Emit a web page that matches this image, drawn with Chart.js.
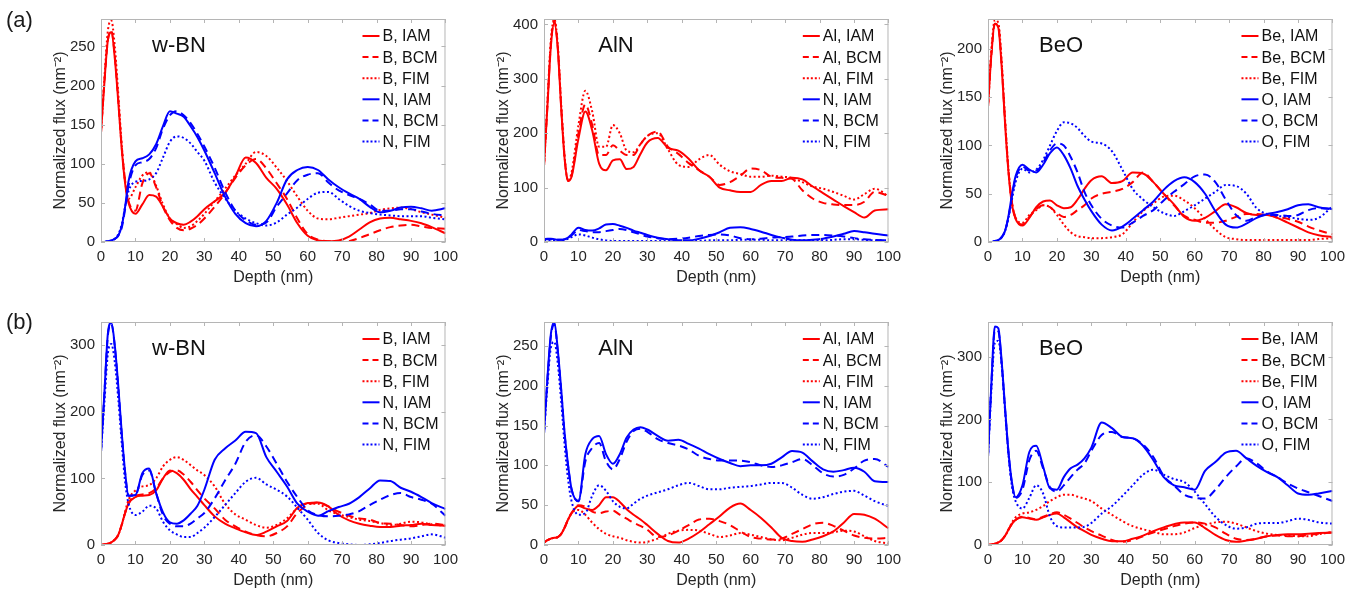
<!DOCTYPE html>
<html>
<head>
<meta charset="utf-8">
<script src="https://cdn.jsdelivr.net/npm/chart.js@4.4.1/dist/chart.umd.min.js"></script>
<style>
  body { margin: 0; background: #fff; width: 1369px; height: 599px; overflow: hidden; position: relative;
         font-family: 'Liberation Sans', Arial, sans-serif; }
  canvas { position: absolute; }
  .tag { position: absolute; font-size: 22px; color: #1a1a1a; z-index: 2; }
</style>
</head>
<body>
<div class="tag" style="left:6px;top:7px">(a)</div>
<div class="tag" style="left:6px;top:309px">(b)</div>
<script>
// depth grid shared by every curve (nm)
const DEPTH = [0,1,2,3,4,5,6,7,8,10,12,14,16,18,20,22,24,26,28,30,33,36,39,42,45,48,51,54,57,60,63,66,69,72,75,78,81,84,87,90,93,96,100];
const MODELS = ['IAM', 'BCM', 'FIM'];

// ── (a) w-BN ───────────────────────────────────────────────
const aBN_B_IAM = [140,205,258,268,235,180,120,75,50,36,48,60,58,45,30,24,22,26,33,42,52,63,84,108,101,82,68,48,24,8,2,1,2,7,16,25,30,31,29,27,24,19,11];
const aBN_B_BCM = [140,205,258,270,238,182,122,78,52,40,75,88,70,45,28,18,15,17,22,30,45,62,82,98,106,94,75,55,30,10,3,1,0,1,5,10,15,19,21,22,20,18,17];
const aBN_B_FIM = [140,210,270,283,250,190,125,78,55,70,85,89,72,48,30,23,18,20,27,36,52,68,85,100,115,110,95,78,58,40,30,29,31,33,35,37,41,43,44,42,38,35,31];
const aBN_N_IAM = [0,0,1,2,4,8,20,45,78,103,107,112,125,148,167,164,160,148,134,117,88,58,36,24,20,27,50,80,92,96,92,80,70,62,55,45,38,40,44,45,43,40,43];
const aBN_N_BCM = [0,0,1,2,4,8,18,42,72,98,102,106,120,145,162,167,162,152,138,122,95,64,40,28,22,25,45,62,79,86,88,76,66,60,55,48,40,40,42,42,39,36,34];
const aBN_N_FIM = [0,0,1,2,4,10,22,45,65,77,78,80,88,108,128,135,133,126,115,104,76,56,40,30,24,21,25,35,44,55,63,64,55,46,40,37,35,34,33,33,33,31,29];

// ── (a) AlN ────────────────────────────────────────────────
const aAlN_Al_IAM = [140,250,360,403,355,245,152,112,120,190,240,205,144,132,150,152,134,138,162,183,191,173,168,153,132,120,100,95,92,92,105,112,112,118,115,102,90,78,66,55,45,58,60];
const aAlN_Al_BCM = [140,252,365,406,358,248,154,112,122,200,253,215,160,160,178,168,160,160,180,195,203,175,162,145,132,120,105,110,122,135,132,120,118,116,95,80,72,69,68,68,74,92,85];
const aAlN_Al_FIM = [140,258,372,410,362,252,156,113,128,215,278,240,175,175,215,200,168,165,180,195,200,170,142,138,152,160,142,130,125,120,120,122,120,118,110,102,98,92,85,78,88,98,84];
const aAlN_N_IAM = [5,6,6,5,4,4,5,8,14,26,22,21,25,32,33,30,26,21,17,13,8,5,3,3,6,11,18,26,27,24,19,13,8,4,3,4,6,10,15,20,18,15,12];
const aAlN_N_BCM = [5,5,5,5,4,4,5,8,12,22,20,18,18,20,22,24,22,18,14,10,7,5,6,8,11,13,14,12,7,5,6,8,9,10,12,13,13,12,10,7,5,4,3];
const aAlN_N_FIM = [3,3,3,3,3,3,4,6,9,14,12,8,5,3,2,2,2,2,2,2,2,2,2,2,2,3,3,3,4,4,4,3,3,3,3,3,3,4,5,5,4,3,3];

// ── (a) BeO ────────────────────────────────────────────────
const aBeO_Be_IAM = [140,195,226,222,180,120,70,38,24,17,25,36,42,43,38,35,36,44,55,64,68,61,63,72,71,62,50,39,26,22,25,32,39,36,30,28,28,25,20,15,10,7,5];
const aBeO_Be_BCM = [140,195,226,223,182,122,72,40,25,18,26,34,38,36,30,26,28,33,38,45,50,52,55,62,72,62,50,38,27,23,20,20,22,26,29,29,28,26,24,21,16,12,8];
const aBeO_Be_FIM = [140,200,230,227,185,125,72,40,25,20,28,33,38,36,28,18,10,6,5,4,4,5,8,20,32,40,47,48,43,35,24,13,5,3,2,2,2,2,2,2,2,3,4];
const aBeO_O_IAM = [0,0,1,2,5,12,28,50,68,80,75,72,80,92,98,90,76,58,44,32,18,12,16,24,33,42,54,63,67,62,50,32,18,15,19,25,29,31,34,38,39,36,34];
const aBeO_O_BCM = [0,0,1,2,5,12,27,48,66,78,74,74,82,95,102,100,88,72,52,38,24,17,15,20,27,33,43,52,60,68,70,62,44,28,22,26,28,28,27,28,33,35,34];
const aBeO_O_FIM = [0,0,1,2,5,12,26,45,62,76,72,75,85,100,115,124,123,118,110,104,102,94,75,55,44,36,30,27,32,38,45,52,59,58,50,35,29,27,26,24,23,25,37];

// ── (b) w-BN ───────────────────────────────────────────────
const bBN_B_IAM = [0,1,2,4,8,15,30,48,62,72,74,75,82,100,112,108,98,84,72,60,43,32,25,19,15,20,28,36,56,63,64,58,45,37,32,29,27,27,29,30,32,30,29];
const bBN_B_BCM = [0,1,2,4,8,15,30,48,63,74,76,78,85,100,110,112,106,95,82,70,55,38,28,20,15,13,18,28,48,60,64,58,50,44,40,38,33,32,30,28,30,32,30];
const bBN_B_FIM = [0,1,2,4,8,15,30,50,68,82,88,90,100,118,128,132,128,120,112,105,88,62,46,38,30,26,30,40,55,62,62,52,46,42,38,36,33,30,32,35,34,31,29];
const bBN_N_IAM = [140,230,318,334,300,240,170,110,74,75,108,115,78,49,34,32,37,47,59,83,128,145,157,170,168,132,110,88,62,50,44,51,57,62,72,85,97,96,86,80,72,63,54];
const bBN_N_BCM = [140,228,315,332,298,238,168,108,74,75,105,112,78,45,32,28,28,32,40,48,70,97,122,155,165,148,122,95,72,52,45,43,44,46,51,60,68,75,78,72,68,62,44];
const bBN_N_FIM = [140,215,288,302,275,220,155,95,62,45,50,59,55,35,22,16,12,12,18,26,42,60,78,95,101,91,83,73,56,38,18,7,3,1,0,1,3,6,8,10,13,16,11];

// ── (b) AlN ────────────────────────────────────────────────
const bAlN_Al_IAM = [3,6,8,9,10,14,22,32,40,49,46,44,50,60,60,54,45,38,32,25,14,5,3,8,16,26,36,47,52,44,34,22,9,5,4,7,11,17,28,39,38,33,21];
const bAlN_Al_BCM = [3,6,8,9,10,14,22,32,40,50,48,42,40,42,43,38,33,28,24,19,10,12,18,25,32,33,30,25,17,10,8,7,8,14,20,26,28,24,18,12,9,8,9];
const bAlN_Al_FIM = [3,6,8,9,10,14,22,32,40,44,38,28,20,14,11,9,6,4,3,4,8,14,18,19,18,14,10,12,15,13,10,7,6,9,13,15,15,16,18,17,11,5,2];
const bAlN_N_IAM = [140,210,265,280,245,195,140,100,70,55,114,133,137,114,102,114,135,145,148,145,137,131,132,127,121,114,108,103,99,100,100,102,110,118,116,105,95,92,94,97,92,80,79];
const bAlN_N_BCM = [140,208,262,277,243,193,138,99,70,55,105,122,128,105,95,108,130,143,146,142,133,128,125,120,112,108,106,106,106,104,100,98,100,104,108,100,90,86,88,96,106,108,98];
const bAlN_N_FIM = [140,200,248,255,228,180,125,82,55,38,40,62,75,68,55,48,46,52,58,62,66,70,75,78,74,70,70,72,73,74,76,78,78,72,63,58,60,64,67,68,62,55,49];

// ── (b) BeO ────────────────────────────────────────────────
const bBeO_Be_IAM = [0,1,2,4,8,15,25,34,40,44,42,40,44,48,50,44,36,28,22,16,10,6,6,10,15,22,28,33,36,36,27,16,8,5,7,10,14,16,17,17,18,19,20];
const bBeO_Be_BCM = [0,1,2,4,8,15,25,34,40,45,43,41,45,49,52,48,42,35,28,22,15,8,5,8,14,20,25,30,34,36,34,28,18,10,8,10,14,15,14,14,16,18,20];
const bBeO_Be_FIM = [0,1,2,4,8,15,25,36,44,50,52,56,62,70,76,80,80,77,74,70,58,48,38,30,25,21,17,17,20,27,32,36,37,34,28,22,18,16,15,14,14,17,21];
const bBeO_O_IAM = [140,260,348,345,290,215,145,98,76,95,148,158,125,90,88,108,122,128,138,155,195,186,172,170,158,135,108,95,92,88,118,132,147,150,138,126,116,108,95,82,80,82,86];
const bBeO_O_BCM = [140,258,342,340,286,212,143,96,75,88,135,150,122,92,85,95,108,120,130,150,175,180,172,170,160,140,110,95,80,75,74,88,108,125,138,130,117,108,98,90,84,78,70];
const bBeO_O_FIM = [140,250,322,325,285,210,140,92,70,58,75,95,82,45,30,28,28,28,29,35,50,62,78,95,112,120,112,105,100,85,65,45,32,26,28,34,35,35,38,42,40,36,34];

const PANELS = [
  { title: 'w-BN', els: ['B', 'N'],   yMax: 285, yStep: 50,  series: [aBN_B_IAM, aBN_B_BCM, aBN_B_FIM, aBN_N_IAM, aBN_N_BCM, aBN_N_FIM] },
  { title: 'AlN',  els: ['Al', 'N'],  yMax: 410, yStep: 100, series: [aAlN_Al_IAM, aAlN_Al_BCM, aAlN_Al_FIM, aAlN_N_IAM, aAlN_N_BCM, aAlN_N_FIM] },
  { title: 'BeO',  els: ['Be', 'O'],  yMax: 231, yStep: 50,  series: [aBeO_Be_IAM, aBeO_Be_BCM, aBeO_Be_FIM, aBeO_O_IAM, aBeO_O_BCM, aBeO_O_FIM] },
  { title: 'w-BN', els: ['B', 'N'],   yMax: 335, yStep: 100, series: [bBN_B_IAM, bBN_B_BCM, bBN_B_FIM, bBN_N_IAM, bBN_N_BCM, bBN_N_FIM] },
  { title: 'AlN',  els: ['Al', 'N'],  yMax: 280, yStep: 50,  series: [bAlN_Al_IAM, bAlN_Al_BCM, bAlN_Al_FIM, bAlN_N_IAM, bAlN_N_BCM, bAlN_N_FIM] },
  { title: 'BeO',  els: ['Be', 'O'],  yMax: 355, yStep: 100, series: [bBeO_Be_IAM, bBeO_Be_BCM, bBeO_Be_FIM, bBeO_O_IAM, bBeO_O_BCM, bBeO_O_FIM] },
];

// layout (pixels)
const PLOT_LEFT = [101, 544, 988];
const PLOT_TOP  = [14, 317];
const TITLE_DX  = [78, 72, 73];
const PLOT_W = 351, PLOT_H = 228;
const PAD_L = 75, PAD_T = 10, PAD_R = 12, PAD_B = 50;

const COLORS = ['#ff0000', '#0000ff'];
const DASH   = [[], [8, 5], [2, 2.5]];
const LEGEND_DASH = [[], [6, 4], [2, 2]];
const TEXT = '#262626';
const FRAME = '#b5b5b5';

Chart.defaults.font.family = "'Liberation Sans', Arial, sans-serif";

// frame, inside tick marks, panel title and legend
const decorPlugin = {
  id: 'decor',
  afterDraw(chart) {
    const { ctx, chartArea: a, scales } = chart;
    const cfg = chart.options.plugins.decor;
    ctx.save();
    ctx.strokeStyle = FRAME;
    ctx.lineWidth = 1;
    ctx.strokeRect(a.left + 0.5, a.top + 0.5, a.right - a.left - 1, a.bottom - a.top - 1);
    ctx.beginPath();
    scales.x.ticks.forEach(t => {
      const px = Math.round(scales.x.getPixelForValue(t.value)) + 0.5;
      ctx.moveTo(px, a.bottom); ctx.lineTo(px, a.bottom - 4);
      ctx.moveTo(px, a.top);    ctx.lineTo(px, a.top + 4);
    });
    scales.y.ticks.forEach(t => {
      const py = Math.round(scales.y.getPixelForValue(t.value)) + 0.5;
      ctx.moveTo(a.left, py);  ctx.lineTo(a.left + 4, py);
      ctx.moveTo(a.right, py); ctx.lineTo(a.right - 4, py);
    });
    ctx.stroke();

    // panel title
    ctx.fillStyle = '#111';
    ctx.font = "22px 'Liberation Sans', Arial, sans-serif";
    ctx.textAlign = 'center';
    ctx.textBaseline = 'middle';
    ctx.fillText(cfg.title, a.left + cfg.titleDx, a.top + 27);

    // legend, right aligned in the top corner
    const ds = chart.data.datasets;
    ctx.font = "16px 'Liberation Sans', Arial, sans-serif";
    const w = Math.max(...ds.map(d => ctx.measureText(d.label).width));
    const tx = a.right - 7 - w;
    ds.forEach((d, i) => {
      const y = a.top + 17 + i * 21.1;
      ctx.strokeStyle = d.borderColor;
      ctx.lineWidth = 2;
      ctx.setLineDash(LEGEND_DASH[i % 3]);
      ctx.beginPath(); ctx.moveTo(tx - 20, y); ctx.lineTo(tx - 3, y); ctx.stroke();
      ctx.setLineDash([]);
      ctx.fillStyle = '#111';
      ctx.textAlign = 'left';
      ctx.fillText(d.label, tx, y + 1);
    });
    ctx.restore();
  }
};

PANELS.forEach((p, idx) => {
  const col = idx % 3, row = Math.floor(idx / 3);
  const cv = document.createElement('canvas');
  cv.width = PLOT_W + PAD_L + PAD_R;
  cv.height = PLOT_H + PAD_T + PAD_B;
  cv.style.left = (PLOT_LEFT[col] - PAD_L) + 'px';
  cv.style.top = (PLOT_TOP[row] - PAD_T) + 'px';
  document.body.appendChild(cv);

  const datasets = p.series.map((vals, i) => ({
    label: `${p.els[Math.floor(i / 3)]}, ${MODELS[i % 3]}`,
    data: DEPTH.map((d, k) => ({ x: d, y: vals[k] })),
    borderColor: COLORS[Math.floor(i / 3)],
    borderDash: DASH[i % 3],
    borderWidth: 2,
    pointRadius: 0,
    cubicInterpolationMode: 'monotone',
    fill: false,
    order: p.series.length - i,
  }));

  new Chart(cv, {
    type: 'line',
    data: { datasets },
    options: {
      responsive: false,
      animation: false,
      layout: { padding: { left: 0, top: PAD_T, right: PAD_R, bottom: 0 } },
      plugins: {
        legend: { display: false },
        tooltip: { enabled: false },
        decor: { title: p.title, titleDx: TITLE_DX[col] },
      },
      scales: {
        x: {
          type: 'linear', min: 0, max: 100,
          grid: { display: false, drawTicks: false },
          border: { display: false },
          ticks: { stepSize: 10, color: TEXT, font: { size: 15 }, padding: 6, maxRotation: 0, autoSkip: false },
          title: { display: true, text: 'Depth (nm)', color: TEXT, font: { size: 16 }, padding: { top: 0, bottom: 5 } },
          afterFit: s => { s.height = PAD_B; },
        },
        y: {
          type: 'linear', min: 0, max: p.yMax,
          grid: { display: false, drawTicks: false },
          border: { display: false },
          ticks: { color: TEXT, font: { size: 15 }, padding: 6 },
          afterBuildTicks: s => {
            const t = [];
            for (let v = 0; v <= p.yMax; v += p.yStep) t.push({ value: v });
            s.ticks = t;
          },
          title: { display: true, text: 'Normalized flux (nm⁻²)', color: TEXT, font: { size: 16 }, padding: { top: 25, bottom: 0 } },
          afterFit: s => { s.width = PAD_L; },
        },
      },
    },
    plugins: [decorPlugin],
  });
});
</script>
</body>
</html>
